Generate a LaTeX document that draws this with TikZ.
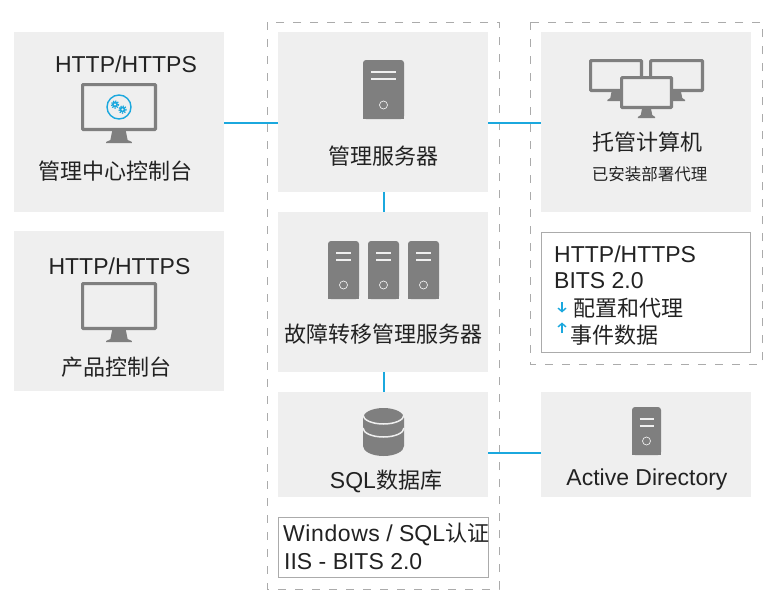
\documentclass[tikz,border=0pt]{standalone}
\usepackage{fontspec}
\usetikzlibrary{arrows.meta}
\setmainfont{Liberation Sans}
\newfontfamily\cjk{Noto Sans CJK SC}
\newfontfamily\widelatin[LetterSpace=2.5]{Liberation Sans}
\definecolor{panel}{HTML}{EFEFEF}
\definecolor{icon}{HTML}{7F7F7F}
\definecolor{link}{HTML}{1BA8DE}
\definecolor{dashc}{HTML}{ABABAB}
\definecolor{ink}{HTML}{222222}
\newcommand{\latinsize}{\fontsize{23}{26}\selectfont}
\newcommand{\cj}[1]{{\cjk\fontsize{22}{26}\selectfont #1}}
\tikzset{
  panelbox/.style={fill=panel,draw=none,inner sep=0pt,outer sep=0pt,anchor=north west},
  notebox/.style={fill=white,draw=dashc,line width=1pt,inner sep=0pt,outer sep=0pt,anchor=north west},
  group/.style={draw=dashc,line width=1pt,dash pattern=on 8pt off 9pt},
  wire/.style={draw=link,line width=2pt},
  lbl/.style={text=ink,inner sep=0pt,font=\latinsize},
  lblsmall/.style={text=ink,inner sep=0pt,font=\cjk\fontsize{16.5}{20}\selectfont},
  notetxt/.style={text=ink,inner sep=0pt,anchor=base west,font=\latinsize},
  tinyarrow/.style={link,line width=1.4pt,-{Straight Barb[length=3.5pt,width=8pt]}}
}
% monitor: x0 y0 x1 y1 base-y, border
\newcommand{\monitor}[6]{%
  \pgfmathsetmacro{\mc}{(#1+#3)/2}
  \fill[icon] (\mc-#6*1.9,#4) -- (\mc+#6*1.9,#4) -- (\mc+#6*2.4,#5-3) -- (\mc+#6*3.6,#5-1) -- (\mc+#6*3.6,#5) -- (\mc-#6*3.6,#5) -- (\mc-#6*3.6,#5-1) -- (\mc-#6*2.4,#5-3) -- cycle;
  \draw[icon,fill=panel,line width=3.2pt,rounded corners=0.8pt] (#1+1.6,#2+1.6) rectangle (#3-1.6,#4-1.6);
}
% server: x0 y0 x1 y1 line1 line2 circle inset
\newcommand{\server}[8]{%
  \fill[icon,rounded corners=3pt] (#1,#4) -- (#1,#2) -- (#3,#2) -- (#3,#4) -- cycle;
  \fill[icon] (#1,#4-4) rectangle (#3,#4);
  \draw[panel,line width=1.2pt] (#1+#8,#5) -- (#3-#8,#5) (#1+#8,#6) -- (#3-#8,#6);
  \draw[panel,line width=0.7pt] ({(#1+#3)/2},#7) circle[radius=4pt];
}
\newcommand{\gear}[3]{%
  \fill[link] (#1,#2) circle[radius=#3];
  \draw[link,line width=1.3pt,dash pattern=on 1.2pt off 1.2pt] (#1,#2) circle[radius=#3+0.6];
  \fill[panel] (#1,#2) circle[radius=#3*0.35];
}
\begin{document}
\begin{tikzpicture}[x=1pt,y=-1pt]
\useasboundingbox (0,0) rectangle (773,600);
\fill[white] (0,0) rectangle (773,600);

% dashed groups
\draw[group] (267,22) rectangle (499,589);
\draw[group] (530,22) rectangle (762,364);

% panels
\node[panelbox,minimum width=210pt,minimum height=180pt] (pcenter) at (14,32) {};
\node[panelbox,minimum width=210pt,minimum height=160pt] (pprod) at (14,231) {};
\node[panelbox,minimum width=210pt,minimum height=160pt] (pmgmt) at (278,32) {};
\node[panelbox,minimum width=210pt,minimum height=160pt] (pfail) at (278,212) {};
\node[panelbox,minimum width=210pt,minimum height=105pt] (psql) at (278,392) {};
\node[panelbox,minimum width=210pt,minimum height=180pt] (phost) at (541,32) {};
\node[panelbox,minimum width=210pt,minimum height=105pt] (pad) at (541,392) {};
\node[notebox,minimum width=210pt,minimum height=60pt] (nsql) at (278.5,517.5) {};
\node[notebox,minimum width=209pt,minimum height=119.5pt] (nhost) at (541.5,232.5) {};

% connectors
\draw[wire] (pcenter.east |- 0,123) -- (pmgmt.west |- 0,123);
\draw[wire] (pmgmt.east |- 0,123) -- (phost.west |- 0,123);
\draw[wire] (pmgmt.south -| 384,0) -- (pfail.north -| 384,0);
\draw[wire] (pfail.south -| 384,0) -- (psql.north -| 384,0);
\draw[wire] (psql.east |- 0,453) -- (pad.west |- 0,453);

% left icons
\monitor{81}{83}{157}{131}{143}{3.6}
\draw[link,line width=1.4pt,fill=panel] (119,107) circle[radius=12pt];
\gear{115}{104.5}{3}
\gear{122.5}{109.5}{3}
\monitor{81}{282}{157}{330}{342}{3.6}

% server icons
\server{363}{60}{404}{119}{72}{79}{105}{8}
\server{328}{241}{359}{299}{253}{260}{285}{8}
\server{368}{241}{399}{299}{253}{260}{285}{8}
\server{408}{241}{439}{299}{253}{260}{285}{8}
\server{632}{407}{661}{455}{419}{426}{441}{7.5}

% database
\fill[icon] (363,418) arc[start angle=180,end angle=0,x radius=20.5pt,y radius=10pt] -- (404,446) arc[start angle=0,end angle=-180,x radius=20.5pt,y radius=10pt] -- cycle;
\draw[panel,line width=1.5pt] (363,415) arc[start angle=180,end angle=360,x radius=20.5pt,y radius=9pt];
\draw[panel,line width=1.5pt] (363,428) arc[start angle=180,end angle=360,x radius=20.5pt,y radius=9pt];

% three monitors
\monitor{589}{59}{643}{92}{101}{2.4}
\monitor{649}{59}{704}{92}{101}{2.4}
\monitor{620}{76}{673}{109}{118}{2.4}

% labels
\node[lbl,anchor=base] (t1) at (126,72) {HTTP/HTTPS};
\node[lbl,anchor=base] (t2) at (115.5,179) {\cj{管理中心控制台}};
\node[lbl,anchor=base] (t3) at (119.5,274) {HTTP/HTTPS};
\node[lbl,anchor=base] (t4) at (116,375) {\cj{产品控制台}};
\node[lbl,anchor=base] (t5) at (383,164) {\cj{管理服务器}};
\node[lbl,anchor=base] (t6) at (383,342) {\cj{故障转移管理服务器}};
\node[lbl,anchor=base] (t7) at (386,488) {SQL\cj{数据库}};
\node[lbl,anchor=base] (t8) at (647,150) {\cj{托管计算机}};
\node[lblsmall,anchor=base] (t9) at (649.5,180) {已安装部署代理};
\node[lbl,anchor=base] (t10) at (647,485) {Active Directory};

% notes
\node[notetxt] (n1) at (283,541) {{\widelatin\latinsize Windows} / SQL\cj{认证}};
\node[notetxt] (n2) at (284,569) {IIS - BITS 2.0};
\node[notetxt] (n3) at (554,262) {HTTP/HTTPS};
\node[notetxt] (n4) at (554,288) {BITS 2.0};
\node[notetxt] (n5) at (573,316) {\cj{配置和代理}};
\node[notetxt] (n6) at (570,343) {\cj{事件数据}};

% small arrows
\draw[tinyarrow] (562,302) -- (562,312.5);
\draw[tinyarrow] (562,333) -- (562,322.5);
\end{tikzpicture}
\end{document}
